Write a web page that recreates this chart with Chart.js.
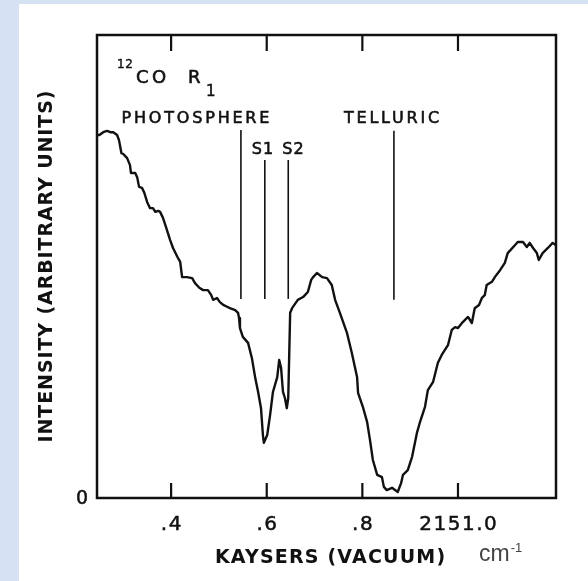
<!DOCTYPE html>
<html>
<head>
<meta charset="utf-8">
<script src="https://cdn.jsdelivr.net/npm/chart.js@4/dist/chart.umd.min.js"></script>
<style>
  html, body { margin: 0; padding: 0; }
  body { width: 588px; height: 581px; background: #d6e2f4; position: relative; overflow: hidden; }
  #sheet { position: absolute; left: 19px; top: 4px; right: 0; bottom: 0; background: #fff; }
  #wrap { position: absolute; left: 0; top: 0; width: 588px; height: 581px; }
</style>
</head>
<body>
<div id="sheet"></div>
<div id="wrap"><canvas id="espectro"></canvas></div>
<script>
// traza 12CO R1: número de onda (cm-1) contra intensidad (unidades arbitrarias)
const waveNumber = [
    2150.245, 2150.250, 2150.258, 2150.266, 2150.273, 2150.279, 2150.287, 2150.291,
    2150.296, 2150.300, 2150.308, 2150.314, 2150.316, 2150.325, 2150.329, 2150.333,
    2150.339, 2150.344, 2150.350, 2150.356, 2150.362, 2150.367, 2150.373, 2150.377,
    2150.383, 2150.390, 2150.398, 2150.404, 2150.413, 2150.419, 2150.423, 2150.433,
    2150.444, 2150.450, 2150.459, 2150.467, 2150.477, 2150.484, 2150.488, 2150.496,
    2150.502, 2150.509, 2150.517, 2150.523, 2150.534, 2150.540, 2150.542, 2150.544,
    2150.550, 2150.561, 2150.569, 2150.576, 2150.582, 2150.588, 2150.592, 2150.594,
    2150.601, 2150.607, 2150.613, 2150.622, 2150.626, 2150.630, 2150.634, 2150.638,
    2150.642, 2150.645, 2150.649, 2150.653, 2150.665, 2150.676, 2150.686, 2150.693,
    2150.697, 2150.705, 2150.716, 2150.726, 2150.736, 2150.743, 2150.753, 2150.768,
    2150.778, 2150.789, 2150.791, 2150.801, 2150.810, 2150.816, 2150.822, 2150.831,
    2150.841, 2150.845, 2150.851, 2150.862, 2150.874, 2150.881, 2150.885, 2150.895,
    2150.904, 2150.914, 2150.920, 2150.931, 2150.937, 2150.948, 2150.958, 2150.966,
    2150.979, 2150.987, 2150.994, 2151.000, 2151.010, 2151.021, 2151.029, 2151.035,
    2151.044, 2151.050, 2151.056, 2151.060, 2151.071, 2151.077, 2151.088, 2151.098,
    2151.104, 2151.119, 2151.125, 2151.136, 2151.144, 2151.150, 2151.157, 2151.165,
    2151.169, 2151.177, 2151.188, 2151.198, 2151.205
];
const intensity = [
    78.4, 78.4, 79.0, 79.3, 79.0, 79.0, 78.4, 77.3,
    74.5, 74.3, 73.4, 71.9, 70.2, 70.2, 69.3, 67.2,
    67.0, 65.9, 63.9, 62.6, 62.6, 61.8, 62.0, 61.8,
    60.5, 58.3, 55.7, 54.0, 52.1, 51.0, 47.7, 47.7,
    47.5, 46.4, 45.4, 44.9, 44.9, 43.8, 42.8, 43.2,
    42.3, 41.7, 41.3, 41.0, 40.6, 40.0, 38.9, 36.7,
    34.8, 33.5, 30.2, 25.9, 22.9, 19.4, 13.6, 11.9,
    13.6, 17.9, 22.9, 26.1, 29.8, 28.1, 22.9, 21.6,
    19.4, 21.6, 40.0, 41.0, 42.8, 43.4, 44.5, 47.1,
    47.7, 48.6, 47.7, 47.5, 46.0, 42.8, 40.0, 35.6,
    31.3, 26.1, 22.7, 19.7, 16.4, 12.5, 8.2, 5.0,
    4.5, 2.4, 1.7, 2.2, 1.3, 3.2, 5.0, 6.0,
    8.9, 14.0, 16.2, 19.7, 23.3, 25.1, 29.2, 30.9,
    33.0, 36.3, 36.9, 36.7, 38.0, 39.1, 37.8, 41.0,
    41.7, 43.2, 43.8, 46.0, 46.7, 47.7, 49.2, 50.8,
    52.9, 54.6, 55.3, 55.3, 54.2, 55.1, 54.0, 52.9,
    51.4, 52.9, 54.0, 55.1, 54.6
];

// marcadores verticales: fotosfera, S1, S2, telúrico
const markerPos = [2150.546, 2150.596, 2150.645, 2150.866];
const markerTop = [79.5, 73.0, 73.0, 79.3];
const markerBottom = [43.0, 43.0, 43.0, 42.8];

// ticks del eje x
const tickValues = [2150.4, 2150.6, 2150.8, 2151.0];
const tickLabels = ['.4', '.6', '.8', '2151.0'];

const X_MIN = 2150.245, X_MAX = 2151.205;
const Y_MIN = 0, Y_MAX = 100;

const FONT = '"DejaVu Sans", sans-serif';
const INK = '#111';

/**
 * Escribe texto con espaciado entre letras
 * @param {*} heavy grosor extra del trazo (0 = sin trazo)
 */
const spaced = (ctx, text, x, y, font, spacing, align, heavy) => {
    ctx.font = font;
    ctx.letterSpacing = spacing + 'px';
    ctx.textAlign = align || 'left';
    // el espaciado deja un hueco al final, se compensa al centrar
    let dx = align === 'center' ? spacing / 2 : 0;
    ctx.fillText(text, x + dx, y);
    if (heavy) {
        ctx.lineWidth = heavy;
        ctx.strokeStyle = ctx.fillStyle;
        ctx.strokeText(text, x + dx, y);
    }
    ctx.letterSpacing = '0px';
};

// marco, ticks y textos
const decoracion = {
    id: 'decoracion',
    afterDraw(chart) {
        const ctx = chart.ctx;
        const area = chart.chartArea;
        const xs = chart.scales.x;
        const ys = chart.scales.y;
        ctx.save();
        ctx.fillStyle = INK;
        ctx.strokeStyle = INK;

        // marco
        ctx.lineWidth = 2.5;
        ctx.strokeRect(area.left, area.top, area.right - area.left, area.bottom - area.top);

        // ticks hacia adentro arriba y abajo
        tickValues.forEach((v, i) => {
            const px = xs.getPixelForValue(v);
            ctx.lineWidth = 2.2;
            ctx.strokeStyle = INK;
            ctx.beginPath();
            ctx.moveTo(px, area.bottom);
            ctx.lineTo(px, area.bottom - 15);
            ctx.moveTo(px, area.top);
            ctx.lineTo(px, area.top + 16);
            ctx.stroke();
            ctx.textBaseline = 'alphabetic';
            spaced(ctx, tickLabels[i], px, area.bottom + 32, '20px ' + FONT, 1.5, 'center', 0.5);
        });

        // etiqueta 0 del eje y
        ctx.textBaseline = 'middle';
        spaced(ctx, '0', area.left - 15, ys.getPixelForValue(0) + 1, '19px ' + FONT, 0, 'center', 0.5);

        // títulos de los ejes
        ctx.textBaseline = 'alphabetic';
        spaced(ctx, 'KAYSERS (VACUUM)', 330, 563, 'bold 19px ' + FONT, 1.2, 'center');
        ctx.fillStyle = '#444';
        ctx.font = '23px "Liberation Sans", Arial, sans-serif';
        ctx.textAlign = 'left';
        ctx.fillText('cm', 479, 561);
        const cmW = ctx.measureText('cm').width;
        ctx.font = '13px "Liberation Sans", Arial, sans-serif';
        ctx.fillText('-1', 479 + cmW + 1, 552);
        ctx.fillStyle = INK;

        ctx.save();
        ctx.translate(52, (area.top + area.bottom) / 2);
        ctx.rotate(-Math.PI / 2);
        ctx.textBaseline = 'alphabetic';
        spaced(ctx, 'INTENSITY (ARBITRARY UNITS)', 0, 0, 'bold 19px ' + FONT, 0.9, 'center');
        ctx.restore();

        // anotaciones
        ctx.textBaseline = 'alphabetic';
        spaced(ctx, '12', 117, 68, '12px ' + FONT, 0.5, 'left', 0.4);
        spaced(ctx, 'CO', 136, 83, '18px ' + FONT, 3.5, 'left', 0.6);
        spaced(ctx, 'R', 188, 83, '18px ' + FONT, 0, 'left', 0.6);
        spaced(ctx, '1', 206, 96, '15px ' + FONT, 0, 'left', 0.5);

        spaced(ctx, 'PHOTOSPHERE', xs.getPixelForValue(2150.451), 123, '16px ' + FONT, 2.8, 'center', 0.6);
        spaced(ctx, 'TELLURIC', xs.getPixelForValue(2150.861), 123, '16px ' + FONT, 2.8, 'center', 0.6);
        spaced(ctx, 'S1', xs.getPixelForValue(2150.591), 154, '16px ' + FONT, 1, 'center', 0.6);
        spaced(ctx, 'S2', xs.getPixelForValue(2150.655), 154, '16px ' + FONT, 1, 'center', 0.6);

        ctx.restore();
    }
};

// un dataset de dos puntos por cada marcador
const markerSets = markerPos.map((x, i) => ({
    data: [{ x: x, y: markerBottom[i] }, { x: x, y: markerTop[i] }],
    borderColor: INK,
    borderWidth: 1.6,
    pointRadius: 0,
    tension: 0
}));

const element = document.getElementById('espectro').getContext('2d');
const graph = new Chart(element, {
    type: 'line',
    data: {
        datasets: [{
            data: waveNumber.map((x, i) => ({ x: x, y: intensity[i] })),
            borderColor: INK,
            borderWidth: 2.4,
            pointRadius: 0,
            tension: 0,
            borderJoinStyle: 'round',
            borderCapStyle: 'round'
        }, ...markerSets]
    },
    options: {
        responsive: true,
        maintainAspectRatio: false,
        animation: false,
        layout: { padding: { left: 97, right: 32, top: 35, bottom: 83 } },
        plugins: {
            legend: { display: false },
            tooltip: { enabled: false }
        },
        scales: {
            x: { type: 'linear', min: X_MIN, max: X_MAX, display: false },
            y: { type: 'linear', min: Y_MIN, max: Y_MAX, display: false }
        }
    },
    plugins: [decoracion]
});
</script>
</body>
</html>
